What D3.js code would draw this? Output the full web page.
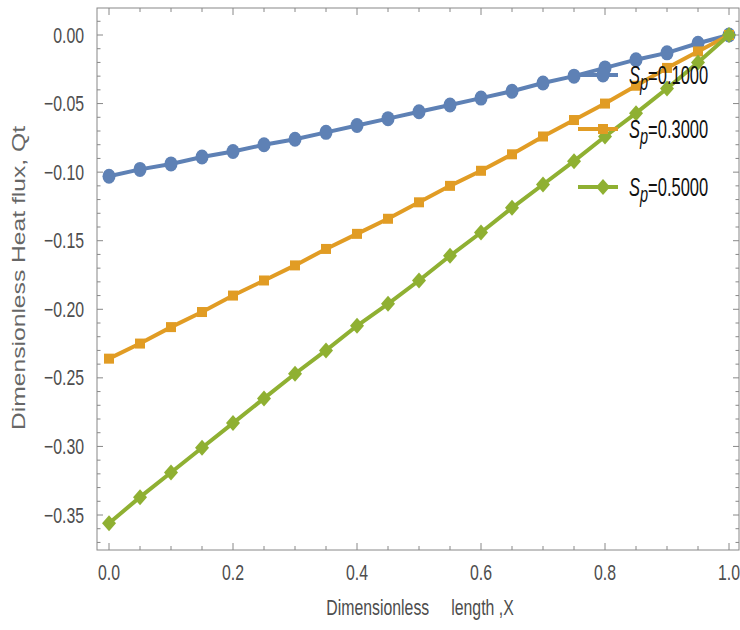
<!DOCTYPE html>
<html>
<head>
<meta charset="utf-8">
<script src="https://cdn.jsdelivr.net/npm/d3@7"></script>
<style>
	body { margin: 0; background: #fff; }
	svg { display: block; font-family: "Liberation Sans", Arial, sans-serif; }
</style>
</head>
<body>
<div id="chart"></div>
<script>
// Data
const xValues = [0, 0.05, 0.1, 0.15, 0.2, 0.25, 0.3, 0.35, 0.4, 0.45, 0.5,
	0.55, 0.6, 0.65, 0.7, 0.75, 0.8, 0.85, 0.9, 0.95, 1.0];
const qtSp01 = [-0.103, -0.098, -0.094, -0.089, -0.085, -0.080, -0.076, -0.071, -0.066, -0.061, -0.056,
	-0.051, -0.046, -0.041, -0.035, -0.030, -0.024, -0.018, -0.013, -0.006, 0.000];
const qtSp03 = [-0.236, -0.225, -0.213, -0.202, -0.190, -0.179, -0.168, -0.156, -0.145, -0.134, -0.122,
	-0.110, -0.099, -0.087, -0.074, -0.062, -0.050, -0.037, -0.024, -0.012, 0.000];
const qtSp05 = [-0.356, -0.337, -0.319, -0.301, -0.283, -0.265, -0.247, -0.230, -0.212, -0.196, -0.179,
	-0.161, -0.144, -0.126, -0.109, -0.092, -0.074, -0.057, -0.039, -0.020, 0.000];
const seriesLabels = ["0.1000", "0.3000", "0.5000"];
const xTickLabels = ["0.0", "0.2", "0.4", "0.6", "0.8", "1.0"];
const yTickLabels = ["0.00", "\u22120.05", "\u22120.10", "\u22120.15", "\u22120.20", "\u22120.25", "\u22120.30", "\u22120.35"];

(function (d3) {
	"use strict";
	const width = 740, height = 630;
	const frame = { left: 97, right: 739, top: 8, bottom: 550 };
	const colors = ["#5E81B5", "#E19C24", "#8FB032"];
	const shapes = ["circle", "square", "diamond"];
	const squeeze = 0.72;

	const svg = d3.select("#chart").append("svg")
		.attr("width", width)
		.attr("height", height);

	const x = d3.scaleLinear().domain([0, 1]).range([109, 729]);
	const y = d3.scaleLinear().domain([-0.35, 0]).range([515, 35]);

	// frame
	svg.append("rect")
		.attr("x", frame.left).attr("y", frame.top)
		.attr("width", frame.right - frame.left)
		.attr("height", frame.bottom - frame.top)
		.attr("fill", "none").attr("stroke", "#888").attr("stroke-width", 1);

	// ticks on all four sides
	const xMajor = d3.range(0, 6).map(i => i * 0.2);
	const xMinor = d3.range(0, 21).map(i => i * 0.05);
	const yMajor = d3.range(0, 8).map(i => -i * 0.05);
	const yMinor = d3.range(-1, 38).map(i => -i * 0.01)
		.filter(v => y(v) > frame.top && y(v) < frame.bottom);

	const ticks = svg.append("g").attr("stroke", "#888").attr("stroke-width", 1);
	xMinor.forEach(v => {
		const major = xMajor.some(m => Math.abs(m - v) < 1e-9);
		const len = major ? 7 : 4;
		ticks.append("line").attr("x1", x(v)).attr("x2", x(v))
			.attr("y1", frame.bottom).attr("y2", frame.bottom - len);
		ticks.append("line").attr("x1", x(v)).attr("x2", x(v))
			.attr("y1", frame.top).attr("y2", frame.top + len);
	});
	yMinor.forEach(v => {
		const major = yMajor.some(m => Math.abs(m - v) < 1e-9);
		const len = major ? 6 : 3.5;
		ticks.append("line").attr("y1", y(v)).attr("y2", y(v))
			.attr("x1", frame.left).attr("x2", frame.left + len);
		ticks.append("line").attr("y1", y(v)).attr("y2", y(v))
			.attr("x1", frame.right).attr("x2", frame.right - len);
	});

	// tick labels (narrow font look)
	xMajor.forEach((v, i) => {
		svg.append("g").attr("transform", `translate(${x(v)},580) scale(${squeeze},1)`)
			.append("text").attr("text-anchor", "middle")
			.attr("font-size", 22).attr("fill", "#4d4d4d")
			.text(xTickLabels[i]);
	});
	yMajor.forEach((v, i) => {
		svg.append("g").attr("transform", `translate(84,${y(v) + 7.5}) scale(${squeeze},1)`)
			.append("text").attr("text-anchor", "end")
			.attr("font-size", 22).attr("fill", "#4d4d4d")
			.text(yTickLabels[i]);
	});

	// axis titles
	svg.append("g").attr("transform", `translate(420,615) scale(${squeeze},1)`)
		.append("text").attr("text-anchor", "middle")
		.attr("font-size", 22).attr("fill", "#4d4d4d")
		.attr("xml:space", "preserve")
		.text("Dimensionless     length ,X");
	svg.append("text")
		.attr("transform", "translate(25,278) rotate(-90)")
		.attr("text-anchor", "middle")
		.attr("font-size", 19).attr("fill", "#666")
		.attr("textLength", 304).attr("lengthAdjust", "spacingAndGlyphs")
		.text("Dimensionless Heat flux, Qt");

	// markers
	function drawMarker(g, shape, cx, cy, color) {
		if (shape === "circle") {
			g.append("ellipse").attr("cx", cx).attr("cy", cy)
				.attr("rx", 6.5).attr("ry", 7.5).attr("fill", color);
		} else if (shape === "square") {
			g.append("rect").attr("x", cx - 5).attr("y", cy - 5)
				.attr("width", 10).attr("height", 10).attr("fill", color);
		} else {
			g.append("path")
				.attr("d", `M${cx},${cy - 8}L${cx + 7},${cy}L${cx},${cy + 8}L${cx - 7},${cy}Z`)
				.attr("fill", color);
		}
	}

	// series
	const allSeries = [qtSp01, qtSp03, qtSp05];
	const line = d3.line().x(d => x(d[0])).y(d => y(d[1]));
	allSeries.forEach((vals, s) => {
		const pts = xValues.map((xv, i) => [xv, vals[i]]);
		const g = svg.append("g");
		g.append("path").datum(pts)
			.attr("d", line)
			.attr("fill", "none")
			.attr("stroke", colors[s])
			.attr("stroke-width", 4);
		pts.forEach(p => drawMarker(g, shapes[s], x(p[0]), y(p[1]), colors[s]));
	});

	// legend
	const legendY = [75, 129, 187];
	seriesLabels.forEach((lab, s) => {
		const g = svg.append("g");
		g.append("line").attr("x1", 578).attr("x2", 618)
			.attr("y1", legendY[s]).attr("y2", legendY[s])
			.attr("stroke", colors[s]).attr("stroke-width", 4);
		drawMarker(g, shapes[s], 603, legendY[s], colors[s]);
		const t = g.append("g")
			.attr("transform", `translate(629,${legendY[s] + 9}) scale(0.66,1)`)
			.append("text").attr("font-size", 25).attr("fill", "#111");
		t.append("tspan").attr("font-style", "italic").text("S");
		t.append("tspan").attr("font-style", "italic").attr("font-size", 22)
			.attr("dy", 6).text("p");
		t.append("tspan").attr("dy", -6).text("=" + lab);
	});
})(d3);
</script>
</body>
</html>
